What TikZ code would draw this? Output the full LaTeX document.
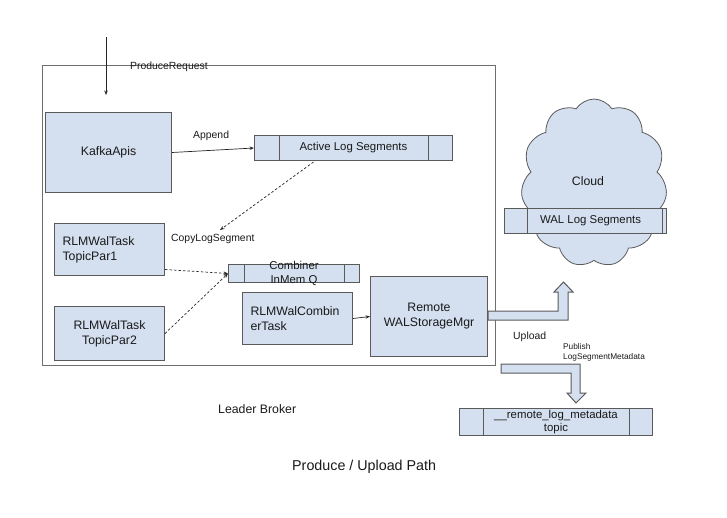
\documentclass[tikz,border=0pt]{standalone}
\usepackage{fontspec}
\setmainfont{Liberation Sans}
\usetikzlibrary{shapes.symbols,arrows.meta}
\definecolor{boxfill}{RGB}{212,224,240}
\definecolor{edgec}{RGB}{90,90,90}
\definecolor{framec}{RGB}{110,110,110}
\begin{document}
\begin{tikzpicture}[x=1pt,y=-1pt,
  every node/.style={text=black!90},
  boxtext/.style={font=\fontsize{12.3}{15}\selectfont},
  bartext/.style={font=\fontsize{11.4}{13.5}\selectfont},
  lbl/.style={font=\fontsize{10.4}{12}\selectfont, anchor=west, inner sep=0},
  box/.style={draw=edgec, fill=boxfill, line width=1pt, inner sep=0, boxtext},
  segbar/.style={draw=edgec, fill=boxfill, line width=1pt, inner sep=0, bartext},
  divider/.style={draw=edgec, line width=1pt},
  frame/.style={draw=framec, line width=1pt, inner sep=0},
  flow/.style={draw=black!85, line width=0.7pt, -{Stealth[length=4.5pt,width=3.5pt]}},
  dflow/.style={flow, dash pattern=on 2.5pt off 2pt},
  blockarrow/.style={draw=edgec, fill=boxfill, line width=1pt, line join=miter}
]
\useasboundingbox (0,0) rectangle (727,517);

% broker frame
\node[frame, minimum width=453, minimum height=300, anchor=north west] (broker) at (42,65) {};

% produce request
\coordinate (pr0) at (106,37);
\coordinate (pr1) at (106,95);
\draw[flow] (pr0) -- (pr1);
\node[lbl] (prl) at (130,67) {ProduceRequest};

% KafkaApis
\node[box, minimum width=126, minimum height=80, anchor=north west] (kafka) at (45,112) {KafkaApis};

% Active log segments
\node[segbar, minimum width=198, minimum height=25, anchor=north west] (als) at (254,135) {Active Log Segments};
\draw[divider] ([xshift=25]als.north west) -- ([xshift=25]als.south west);
\draw[divider] ([xshift=-25]als.north east) -- ([xshift=-25]als.south east);

\draw[flow] (kafka.east) -- (als.west);
\node[lbl] (appl) at (193,136) {Append};

% copy log segment
\coordinate (cpy) at (220,230);
\draw[dflow] ([xshift=-40,yshift=-1]als.south) -- (cpy);
\node[lbl] (cpyl) at (171,239) {CopyLogSegment};

% tasks
\node[box, minimum width=110, minimum height=52, text width=94, inner xsep=8, align=left, anchor=north west] (tp1) at (54,223) {RLMWalTask\\TopicPar1};
\node[box, minimum width=110, minimum height=54, align=center, anchor=north west] (tp2) at (54,306) {RLMWalTask\\TopicPar2};

% combiner queue
\node[segbar, minimum width=131, minimum height=18, anchor=north west,
  label={[bartext, align=center, inner sep=0]center:Combiner\\InMem Q}] (comb) at (228,264) {};
\draw[divider] ([xshift=16]comb.north west) -- ([xshift=16]comb.south west);
\draw[divider] ([xshift=-16]comb.north east) -- ([xshift=-16]comb.south east);

\draw[dflow] ([yshift=-20]tp1.east) -- (comb.west);
\draw[dflow] (tp2.east) -- (comb.west);

% combiner task and storage mgr
\node[box, minimum width=110, minimum height=52, text width=94, inner xsep=8, align=left, anchor=north west] (ct) at (242,292) {RLMWalCombin\\erTask};
\node[box, minimum width=117, minimum height=80, align=center, anchor=north west] (rw) at (370,276) {Remote\\WALStorageMgr};
\draw[flow] (ct.east) -- (rw.west);

\node[lbl, font=\fontsize{12.3}{15}\selectfont] (lb) at (218,409) {Leader Broker};

% cloud
\node[cloud, draw=edgec, fill=boxfill, line width=0.8pt, cloud puffs=11, cloud puff arc=115, aspect=0.85,
  minimum width=146, minimum height=168, inner sep=0] (cloud) at (594,183) {};
\node[boxtext, inner sep=0] (cloudl) at (588,181) {Cloud};

\node[segbar, minimum width=162, minimum height=25, anchor=north west] (wal) at (504,208) {\hspace*{10pt}WAL Log Segments};
\draw[divider] ([xshift=23]wal.north west) -- ([xshift=23]wal.south west);
\draw[divider] ([xshift=-5]wal.north east) -- ([xshift=-5]wal.south east);

% upload block arrow
\draw[blockarrow] (488,311) -- (558,311) -- (558,292) -- (554,292) -- (563.5,282) -- (573,292) -- (568,292) -- (568,320) -- (488,320) -- cycle;
\node[lbl] (upl) at (513,337) {Upload};

% publish block arrow
\draw[blockarrow] (501,364) -- (580,364) -- (580,393) -- (586,393) -- (576,403) -- (567,393) -- (571,393) -- (571,373) -- (501,373) -- cycle;
\node[lbl, font=\fontsize{8.3}{10}\selectfont, align=left, anchor=north west] (publ) at (563,343) {Publish\\LogSegmentMetadata};

% metadata topic
\node[segbar, minimum width=193, minimum height=27, anchor=north west,
  label={[bartext, align=center, inner sep=0]center:\_\_remote\_log\_metadata\\topic}] (meta) at (459,408) {};
\draw[divider] ([xshift=24]meta.north west) -- ([xshift=24]meta.south west);
\draw[divider] ([xshift=-24]meta.north east) -- ([xshift=-24]meta.south east);

% title
\node[lbl, font=\fontsize{14.3}{17}\selectfont] (title) at (292,467) {Produce / Upload Path};
\end{tikzpicture}
\end{document}
